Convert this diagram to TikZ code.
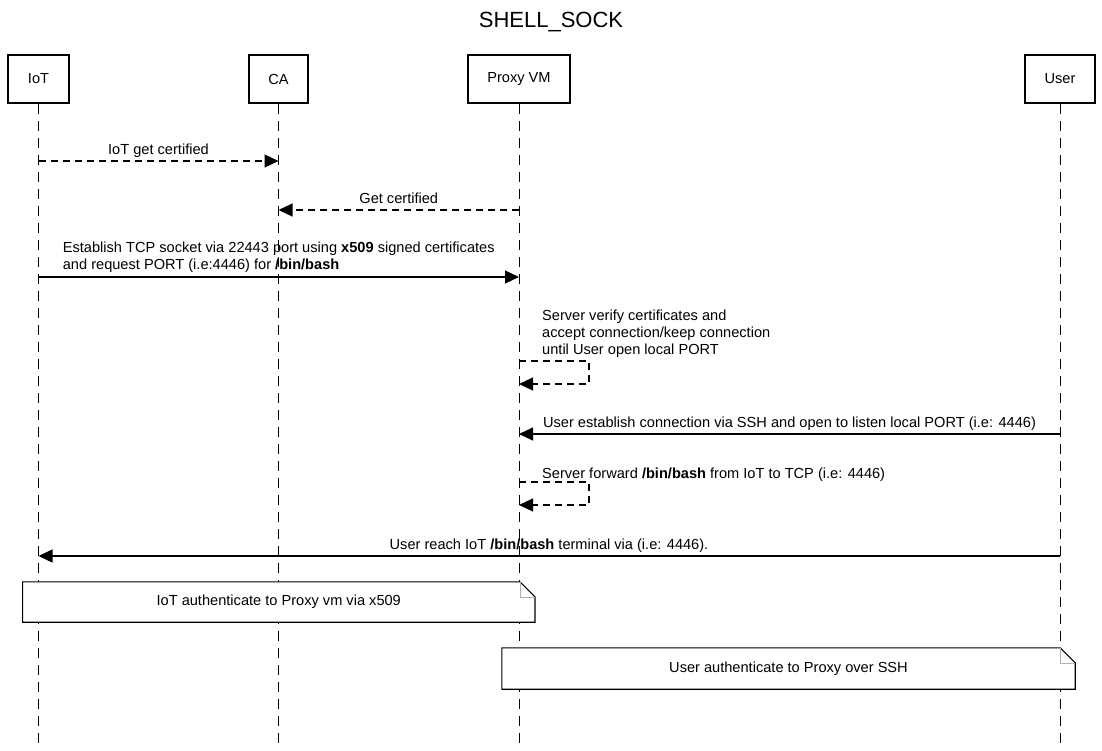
\documentclass[tikz,border=0pt]{standalone}
\usepackage{fontspec}
\setmainfont{Liberation Sans}
\usetikzlibrary{arrows.meta}

\begin{document}
\begin{tikzpicture}[x=1pt, y=-1pt,
        actor/.style={draw, line width=2.3pt, minimum height=48pt, inner sep=0pt},
        lifeline/.style={line width=1pt, dash pattern=on 10pt off 7pt},
        msg/.style={line width=1.1pt, -{Triangle[length=14pt,width=13pt]}},
        reply/.style={msg, dash pattern=on 7pt off 5pt},
        lbl/.style={inner sep=0pt},
        note/.style={fill=white, inner sep=0pt}]
        \fontsize{14.6}{17.3}\selectfont
        \useasboundingbox (0,0) rectangle (1102,750);

        % Title
        \node[lbl, anchor=base] (title) at (551,27) {\fontsize{22}{26}\selectfont SHELL\_SOCK};

        % Participants
        \node[actor, minimum width=61pt] (iot) at (38.5,79) {IoT};
        \node[actor, minimum width=59pt] (ca) at (278.5,79) {CA};
        \node[actor, minimum width=102pt] (proxy) at (519,79) {Proxy VM};
        \node[actor, minimum width=70pt] (user) at (1060,79) {User};

        % Lifelines
        \coordinate (bottom) at (0,750);
        \foreach \p in {iot, ca, proxy, user}
            \draw[lifeline] (\p.south) -- (\p.south |- bottom);

        % IoT -> CA
        \coordinate (iot1) at (38.5,161);
        \coordinate (ca1) at (278.5,161);
        \draw[reply] (iot1) -- (ca1);
        \node[lbl, anchor=base] (l1) at (158.5,154) {IoT get certified};

        % Proxy -> CA
        \coordinate (proxy2) at (519,210);
        \coordinate (ca2) at (278.5,210);
        \draw[reply] (proxy2) -- (ca2);
        \node[lbl, anchor=base] (l2) at (398.75,203) {Get certified};

        % IoT -> Proxy
        \coordinate (iot3) at (38.5,277);
        \coordinate (proxy3) at (519,277);
        \draw[msg] (iot3) -- (proxy3);
        \node[lbl, anchor=south, align=left] (l3) at (278.75,273)
            {Establish TCP socket via 22443 port using \textbf{x509} signed certificates\\
             and request PORT (i.e:4446) for \textbf{/bin/bash}};

        % Proxy self check
        \coordinate (proxy4a) at (519,361);
        \coordinate (proxy4b) at (519,384);
        \draw[reply] (proxy4a) -- ++(70,0) -- ++(0,23) -- (proxy4b);
        \node[lbl, anchor=south west, align=left] (l4) at (542,358)
            {Server verify certificates and\\
             accept connection/keep connection\\
             until User open local PORT};

        % User -> Proxy
        \coordinate (user5) at (1060,434);
        \coordinate (proxy5) at (519,434);
        \draw[msg] (user5) -- (proxy5);
        \node[lbl, anchor=base] (l5) at (789.5,427)
            {User establish connection via SSH and open to listen local PORT (i.e: 4446)};

        % Proxy forward
        \coordinate (proxy6a) at (519,482);
        \coordinate (proxy6b) at (519,505);
        \draw[reply] (proxy6a) -- ++(70,0) -- ++(0,23) -- (proxy6b);
        \node[lbl, anchor=base west] (l6) at (542,478)
            {Server forward \textbf{/bin/bash} from IoT to TCP (i.e: 4446)};

        % User -> IoT
        \coordinate (user7) at (1060,556);
        \coordinate (iot7) at (38.5,556);
        \draw[msg] (user7) -- (iot7);
        \node[lbl, anchor=base] (l7) at (549,549)
            {User reach IoT \textbf{/bin/bash} terminal via (i.e: 4446).};

        % Notes
        \node[note, minimum width=512pt, minimum height=40pt] (n1) at (278.75,602)
            {IoT authenticate to Proxy vm via x509};
        \draw[line width=1.1pt] (n1.south west) -- (n1.north west) -- ([xshift=-15pt]n1.north east)
            -- ([yshift=-15pt]n1.north east) -- (n1.south east) -- cycle;
        \draw[gray!60] ([xshift=-15pt]n1.north east) |- ([yshift=-15pt]n1.north east);

        \node[note, minimum width=573pt, minimum height=41pt] (n2) at (788.5,668.5)
            {User authenticate to Proxy over SSH};
        \draw[line width=1.1pt] (n2.south west) -- (n2.north west) -- ([xshift=-15pt]n2.north east)
            -- ([yshift=-15pt]n2.north east) -- (n2.south east) -- cycle;
        \draw[gray!60] ([xshift=-15pt]n2.north east) |- ([yshift=-15pt]n2.north east);
    \end{tikzpicture}
\end{document}
